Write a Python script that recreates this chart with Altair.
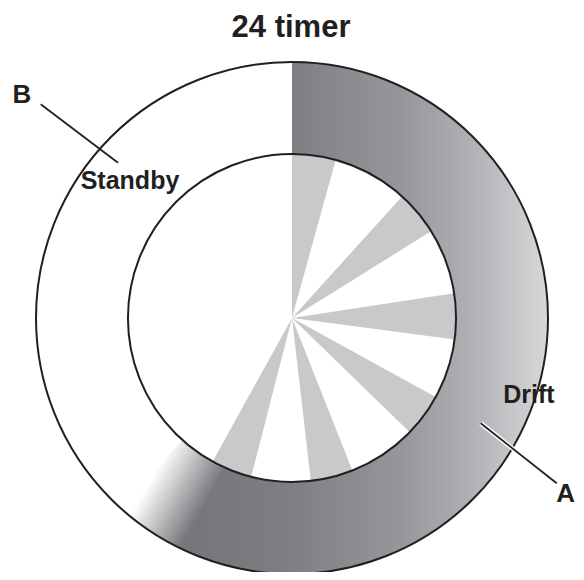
import math
import altair as alt
import pandas as pd

# ---- data (hours of a 24-hour day) ----
title_text = "24 timer"
ring_labels = ["Drift", "Standby"]
drift_end = 14.25          # hours of "Drift" (outer ring, clockwise from top)
day_hours = 24
# light-grey wedges of the inner disc (start, end) in hours
wedge_start = [0.0, 2.81, 5.42, 7.92, 10.56, 12.96]
wedge_end = [1.03, 3.87, 6.50, 8.94, 11.56, 13.93]
callouts = ["A", "B"]

# ---- styling ----
CX, CY = 284, 310
R_OUT, R_IN = 256, 164
FADE = 0.55                 # half width of soft end of Drift arc (hours)
INK = "#231f20"
WEDGE = "#c8c9cb"
FONT = "Liberation Sans"

theta_scale = alt.Scale(domain=[0, day_hours], range=[0, 2 * math.pi])

drift_main = pd.DataFrame({"start": [0.0], "end": [drift_end - FADE]})
drift_fade = pd.DataFrame({"start": [drift_end - FADE - 0.08], "end": [drift_end + FADE]})
standby = pd.DataFrame({"start": [drift_end + FADE], "end": [float(day_hours)]})
full = pd.DataFrame({"start": [0.0], "end": [float(day_hours)]})
wedges = pd.DataFrame({"start": wedge_start, "end": wedge_end})
one = pd.DataFrame({"a": [0]})


def ring(df, **mark):
    return alt.Chart(df).mark_arc(**mark).encode(
        theta=alt.Theta("start:Q", scale=theta_scale),
        theta2="end:Q",
        x=alt.value(CX),
        y=alt.value(CY),
    )


main_grad = alt.LinearGradient(
    gradient="linear",
    stops=[
        alt.GradientStop(color="#747579", offset=0),
        alt.GradientStop(color="#7e7f83", offset=0.3),
        alt.GradientStop(color="#96979b", offset=0.6),
        alt.GradientStop(color="#aeafb2", offset=0.78),
        alt.GradientStop(color="#d7d8da", offset=1),
    ],
    x1=0, x2=1, y1=0, y2=0,
)
fade_grad = alt.LinearGradient(
    gradient="linear",
    stops=[
        alt.GradientStop(color="#76777b", offset=0),
        alt.GradientStop(color="#ffffff", offset=1),
    ],
    x1=0.79, y1=0.62, x2=0.31, y2=0.32,
)

standby_layer = ring(standby, radius=R_OUT, radius2=R_IN, fill="#ffffff")
drift_layer = ring(drift_main, radius=R_OUT, radius2=R_IN, fill=main_grad)
fade_layer = ring(drift_fade, radius=R_OUT, radius2=R_IN, fill=fade_grad)
wedge_layer = ring(wedges, radius=R_IN, radius2=0, fill=WEDGE)
outline_layer = ring(full, radius=R_OUT, radius2=R_IN, fill="transparent",
                     stroke=INK, strokeWidth=2)


def label(txt, x, y, size, align="center"):
    return alt.Chart(pd.DataFrame({"t": [txt]})).mark_text(
        font=FONT, fontWeight="bold", fontSize=size, color=INK,
        align=align, baseline="alphabetic",
    ).encode(text="t:N", x=alt.value(x), y=alt.value(y))


def leader(x, y, x2, y2, color=INK, width=1.8):
    return alt.Chart(one).mark_rule(color=color, strokeWidth=width).encode(
        x=alt.value(x), y=alt.value(y), x2=alt.value(x2), y2=alt.value(y2)
    )


chart = alt.layer(
    standby_layer,
    drift_layer,
    fade_layer,
    wedge_layer,
    outline_layer,
    label(title_text, 283, 29, 31),
    label(ring_labels[1], 122, 181, 25),
    label(ring_labels[0], 521, 395, 25),
    label(callouts[1], 14, 95, 26),
    label(callouts[0], 567, 494, 26, align="right"),
    leader(32.7, 96.3, 110, 154.7),
    leader(472.7, 415.3, 548.7, 475.3, color="#ffffff", width=4.5),
    leader(472.7, 415.3, 548.7, 475.3),
).properties(
    width=568,
    height=564,
    autosize=alt.AutoSizeParams(type="none"),
    padding=0,
).configure_view(stroke=None)

chart.save("out.html", embed_options={"renderer": "svg", "actions": False})
